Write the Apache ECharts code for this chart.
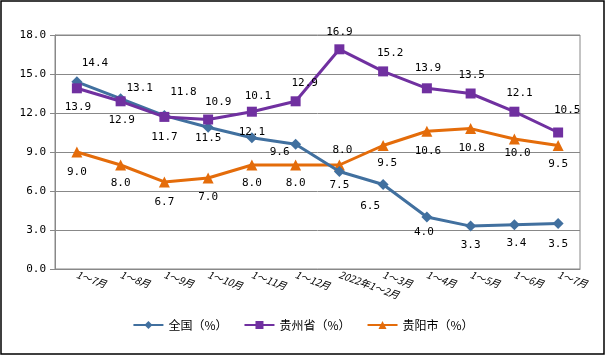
<!DOCTYPE html>
<html><head><meta charset="utf-8">
<script src="https://cdn.jsdelivr.net/npm/echarts@6/dist/echarts.min.js"></script>
<style>html,body{margin:0;padding:0;background:#fff}#c{width:606px;height:356px}</style>
</head><body><div id="c"></div>
<script>
const categories = ['1～7月','1～8月','1～9月','1～10月','1～11月','1～12月','2022年1～2月','1～3月','1～4月','1～5月','1～6月','1～7月'];
const yTicks = [0, 3, 6, 9, 12, 15, 18];
const national = [14.4, 13.1, 11.8, 10.9, 10.1, 9.6, 7.5, 6.5, 4.0, 3.3, 3.4, 3.5];
const guizhou = [13.9, 12.9, 11.7, 11.5, 12.1, 12.9, 16.9, 15.2, 13.9, 13.5, 12.1, 10.5];
const guiyang = [9.0, 8.0, 6.7, 7.0, 8.0, 8.0, 8.0, 9.5, 10.6, 10.8, 10.0, 9.5];
const seriesNames = ['全国（%）', '贵州省（%）', '贵阳市（%）'];

// label offsets (style only)
const offNational = [[18,-19],[19,-11],[19,-23],[10,-25],[6,-42],[-16,8],[0,14],[-13,22],[-3,15],[0,19],[2,18],[0,21]];
const offGuizhou = [[1,19],[1,19],[0,20],[0,19],[0,20],[9,-18],[0,-17],[7,-18],[1,-20],[1,-18],[5,-19],[9,-22]];
const offGuiyang = [[0,20],[0,18],[0,20],[0,19],[0,18],[0,18],[3,-15],[4,18],[1,20],[1,20],[3,14],[0,19]];

const numFont = 'DejaVu Sans Mono';
function mk(vals, offs) {
  return vals.map((v, i) => ({
    value: v,
    label: { show: true, position: 'inside', offset: offs[i], formatter: (p) => Number(p.value).toFixed(1),
      color: '#000', fontFamily: numFont, fontSize: 11 }
  }));
}
const chart = echarts.init(document.getElementById('c'));
chart.setOption({
  animation: false,
  graphic: [{ type: 'rect', shape: { x: 1, y: 1, width: 603, height: 353 }, style: { fill: 'none', stroke: '#000', lineWidth: 1.5 }, z: 100 }],
  grid: { left: 55, right: 26, top: 35, bottom: 87, show: true, borderColor: '#888', borderWidth: 1 },
  legend: {
    bottom: 20, left: 'center', itemWidth: 30, itemHeight: 10, itemGap: 16,
    textStyle: { fontFamily: 'Noto Sans CJK SC', fontSize: 12, color: '#000' },
    data: seriesNames
  },
  xAxis: {
    type: 'category', data: categories, boundaryGap: true,
    axisLine: { lineStyle: { color: '#888' } },
    axisTick: { show: false },
    axisLabel: { rotate: -20, fontSize: 10, fontStyle: 'italic', color: '#000', fontFamily: 'Noto Sans CJK SC', margin: 5, interval: 0 }
  },
  yAxis: {
    type: 'value', min: yTicks[0], max: yTicks[yTicks.length - 1], interval: yTicks[1] - yTicks[0],
    axisLine: { show: true, lineStyle: { color: '#888' } },
    axisTick: { show: true, length: 5, lineStyle: { color: '#888' } },
    splitLine: { lineStyle: { color: '#888' } },
    axisLabel: { formatter: (v) => v.toFixed(1), fontFamily: numFont, fontSize: 11, color: '#000', margin: 9 }
  },
  series: [
    { name: seriesNames[0], type: 'line', data: mk(national, offNational), symbol: 'diamond', symbolSize: 11,
      lineStyle: { width: 3, color: '#41709F' }, itemStyle: { color: '#41709F' }, z: 3 },
    { name: seriesNames[1], type: 'line', data: mk(guizhou, offGuizhou), symbol: 'rect', symbolSize: 10,
      lineStyle: { width: 3, color: '#7030A0' }, itemStyle: { color: '#7030A0' }, z: 4 },
    { name: seriesNames[2], type: 'line', data: mk(guiyang, offGuiyang), symbol: 'triangle', symbolSize: 11,
      lineStyle: { width: 3, color: '#E46C0A' }, itemStyle: { color: '#E46C0A' }, z: 2 }
  ]
});
</script></body></html>
